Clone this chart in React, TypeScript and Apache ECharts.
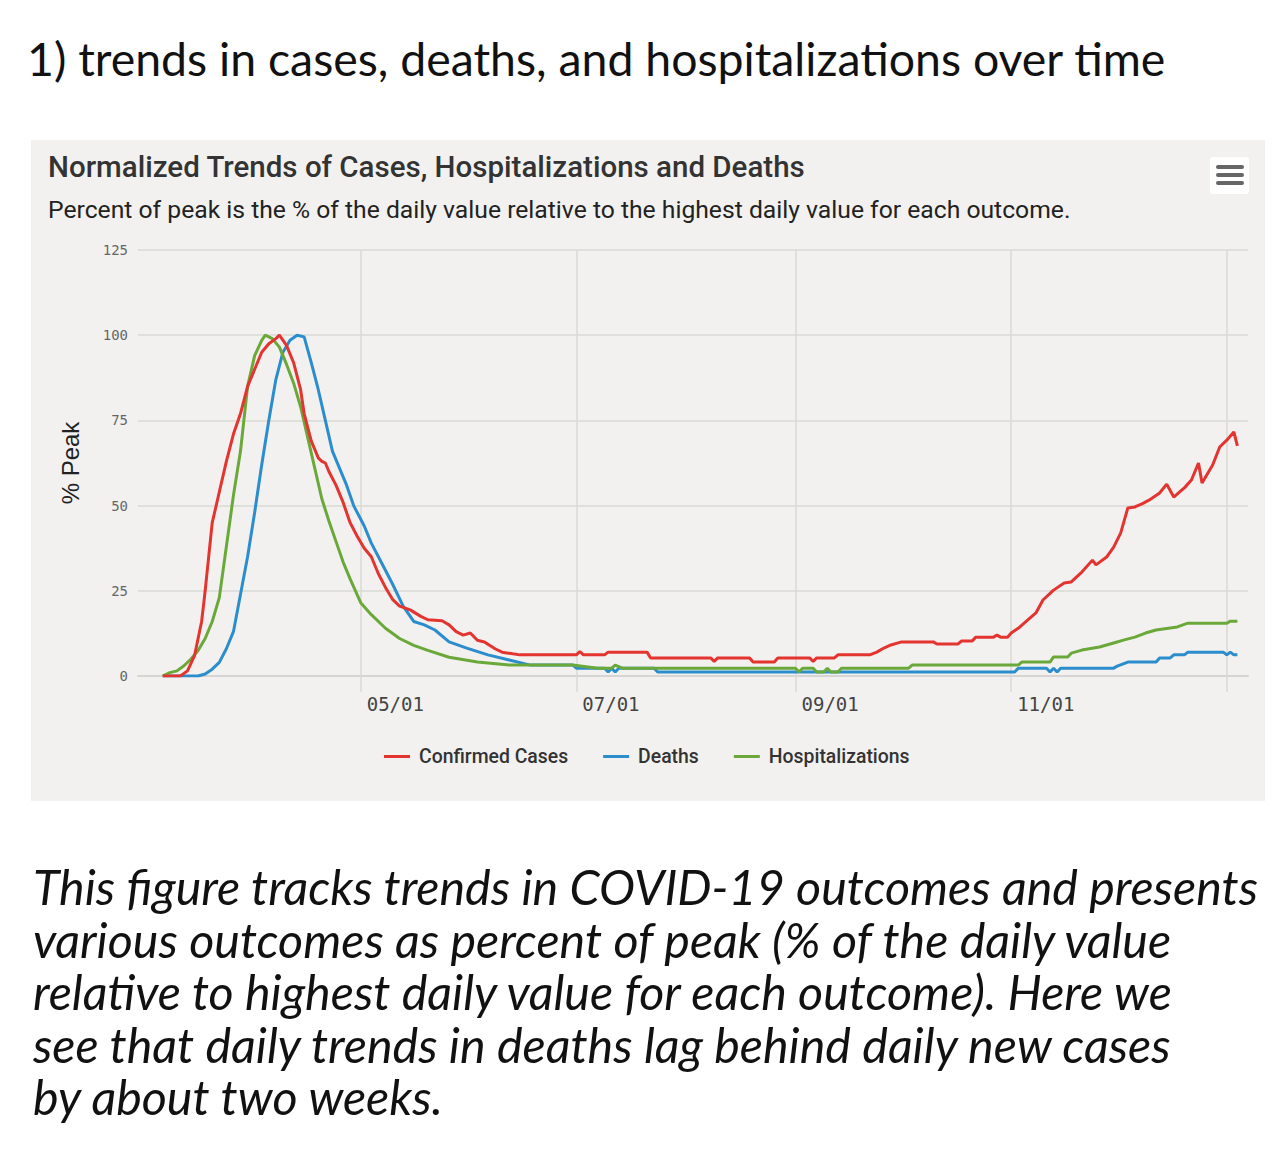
import React, { useEffect, useRef } from "react";
import * as echarts from "echarts";

// ---- Data ----
const axisStart = "2020-02-28";
const axisEnd = "2021-01-07";
const labelDates = ["2020-05-01", "2020-07-01", "2020-09-01", "2020-11-01"];
const gridDates = ["2020-05-01", "2020-07-01", "2020-09-01", "2020-11-01", "2021-01-01"];
const yTicks = [0, 25, 50, 75, 100, 125];
const seriesNames = ["Confirmed Cases", "Deaths", "Hospitalizations"];

const casesData: [string, number][] = [
  ["2020-03-06", 0], ["2020-03-11", 0], ["2020-03-13", 1.5], ["2020-03-15", 6], ["2020-03-17", 16],
  ["2020-03-18", 25], ["2020-03-19", 35], ["2020-03-20", 45], ["2020-03-22", 54], ["2020-03-24", 63],
  ["2020-03-26", 71], ["2020-03-28", 77], ["2020-03-30", 85], ["2020-04-01", 90], ["2020-04-03", 95],
  ["2020-04-05", 97.5], ["2020-04-07", 99], ["2020-04-08", 100], ["2020-04-10", 97], ["2020-04-12", 92],
  ["2020-04-14", 84], ["2020-04-15", 77], ["2020-04-17", 69], ["2020-04-19", 64], ["2020-04-20", 63],
  ["2020-04-21", 62.5], ["2020-04-22", 60], ["2020-04-24", 56], ["2020-04-26", 51], ["2020-04-28", 45],
  ["2020-04-30", 41], ["2020-05-02", 37.5], ["2020-05-04", 35], ["2020-05-06", 30], ["2020-05-08", 26],
  ["2020-05-10", 22.5], ["2020-05-12", 20.5], ["2020-05-15", 19.4], ["2020-05-18", 17.5], ["2020-05-20", 16.5],
  ["2020-05-24", 16.2], ["2020-05-26", 15], ["2020-05-28", 13], ["2020-05-30", 12], ["2020-06-01", 12.6],
  ["2020-06-03", 10.5], ["2020-06-05", 10], ["2020-06-08", 8], ["2020-06-10", 7], ["2020-06-13", 6.5],
  ["2020-06-15", 6.2], ["2020-07-01", 6.2], ["2020-07-02", 7.2], ["2020-07-03", 6.2], ["2020-07-09", 6.2],
  ["2020-07-10", 7], ["2020-07-21", 7], ["2020-07-22", 5.3], ["2020-08-08", 5.3], ["2020-08-09", 4.3],
  ["2020-08-10", 5.3], ["2020-08-19", 5.3], ["2020-08-20", 4.1], ["2020-08-26", 4.1], ["2020-08-27", 5.3],
  ["2020-09-05", 5.3], ["2020-09-06", 4.3], ["2020-09-07", 5.3], ["2020-09-12", 5.3], ["2020-09-13", 6.2],
  ["2020-09-22", 6.2], ["2020-09-24", 7], ["2020-09-26", 8.2], ["2020-09-28", 9.1], ["2020-10-01", 10],
  ["2020-10-10", 10], ["2020-10-11", 9.4], ["2020-10-17", 9.4], ["2020-10-18", 10.3], ["2020-10-21", 10.3],
  ["2020-10-22", 11.4], ["2020-10-27", 11.4], ["2020-10-28", 12], ["2020-10-29", 11.4], ["2020-10-31", 11.4],
  ["2020-11-01", 12.6], ["2020-11-03", 14], ["2020-11-05", 15.8], ["2020-11-08", 18.5], ["2020-11-10", 22.3],
  ["2020-11-13", 25.2], ["2020-11-16", 27.3], ["2020-11-18", 27.6], ["2020-11-21", 30.5], ["2020-11-24", 34],
  ["2020-11-25", 32.6], ["2020-11-28", 34.9], ["2020-11-30", 37.8], ["2020-12-02", 42], ["2020-12-04", 49.3],
  ["2020-12-06", 49.6], ["2020-12-08", 50.5], ["2020-12-10", 51.6], ["2020-12-13", 53.7], ["2020-12-15", 56.3],
  ["2020-12-17", 52.5], ["2020-12-19", 54.3], ["2020-12-20", 55.2], ["2020-12-22", 57.5], ["2020-12-24", 62.5],
  ["2020-12-25", 56.6], ["2020-12-28", 61.9], ["2020-12-30", 67.2], ["2021-01-01", 69.2], ["2021-01-03", 71.6],
  ["2021-01-04", 67.5],
];

const deathsData: [string, number][] = [
  ["2020-03-06", 0], ["2020-03-16", 0], ["2020-03-18", 0.6], ["2020-03-20", 2], ["2020-03-22", 4],
  ["2020-03-24", 8], ["2020-03-26", 13], ["2020-03-28", 24], ["2020-03-30", 35], ["2020-04-01", 48],
  ["2020-04-03", 62], ["2020-04-05", 75], ["2020-04-07", 87], ["2020-04-09", 95], ["2020-04-11", 98.5],
  ["2020-04-13", 100], ["2020-04-15", 99.5], ["2020-04-17", 92], ["2020-04-19", 84], ["2020-04-21", 75],
  ["2020-04-23", 66], ["2020-04-25", 61], ["2020-04-27", 56], ["2020-04-29", 50], ["2020-05-02", 44],
  ["2020-05-04", 39], ["2020-05-07", 33], ["2020-05-10", 27], ["2020-05-13", 20.5], ["2020-05-16", 16],
  ["2020-05-19", 15], ["2020-05-22", 13.5], ["2020-05-26", 10], ["2020-05-31", 8.2], ["2020-06-06", 6.2],
  ["2020-06-12", 4.7], ["2020-06-18", 3.2], ["2020-06-30", 3.2], ["2020-07-01", 2.3], ["2020-07-09", 2.3],
  ["2020-07-10", 1.2], ["2020-07-11", 2.3], ["2020-07-12", 1.2], ["2020-07-13", 2.3], ["2020-07-23", 2.3],
  ["2020-07-24", 1.2], ["2020-11-02", 1.2], ["2020-11-03", 2.3], ["2020-11-11", 2.3], ["2020-11-12", 1.2],
  ["2020-11-13", 2.3], ["2020-11-14", 1.2], ["2020-11-15", 2.3], ["2020-11-30", 2.3], ["2020-12-01", 2.9],
  ["2020-12-04", 4.1], ["2020-12-12", 4.1], ["2020-12-13", 5.3], ["2020-12-16", 5.3], ["2020-12-17", 6.2],
  ["2020-12-20", 6.2], ["2020-12-21", 7], ["2020-12-31", 7], ["2021-01-01", 6.2], ["2021-01-02", 7],
  ["2021-01-03", 6.2], ["2021-01-04", 6.2],
];

const hospData: [string, number][] = [
  ["2020-03-06", 0], ["2020-03-08", 1], ["2020-03-10", 1.5], ["2020-03-12", 3], ["2020-03-14", 5],
  ["2020-03-16", 7.5], ["2020-03-18", 11], ["2020-03-20", 16], ["2020-03-22", 23], ["2020-03-24", 38],
  ["2020-03-26", 53], ["2020-03-28", 66], ["2020-03-30", 85], ["2020-04-01", 94], ["2020-04-03", 98.5],
  ["2020-04-04", 100], ["2020-04-06", 99], ["2020-04-08", 96.5], ["2020-04-10", 91.5], ["2020-04-12", 86],
  ["2020-04-14", 79], ["2020-04-16", 70], ["2020-04-18", 61], ["2020-04-20", 52], ["2020-04-22", 45.5],
  ["2020-04-24", 39.5], ["2020-04-26", 33.5], ["2020-04-28", 28.5], ["2020-05-01", 21.5], ["2020-05-04", 18],
  ["2020-05-08", 14], ["2020-05-12", 11], ["2020-05-16", 9], ["2020-05-20", 7.5], ["2020-05-26", 5.5],
  ["2020-06-03", 4.1], ["2020-06-12", 3.2], ["2020-06-30", 3.2], ["2020-07-07", 2.3], ["2020-07-11", 2.3],
  ["2020-07-12", 3.2], ["2020-07-14", 2.3], ["2020-09-01", 2.3], ["2020-09-02", 1.2], ["2020-09-03", 2.3],
  ["2020-09-06", 2.3], ["2020-09-07", 1.2], ["2020-09-09", 1.2], ["2020-09-10", 2.3], ["2020-09-11", 1.2],
  ["2020-09-13", 1.2], ["2020-09-14", 2.3], ["2020-10-03", 2.3], ["2020-10-04", 3.2], ["2020-11-03", 3.2],
  ["2020-11-04", 4.1], ["2020-11-12", 4.1], ["2020-11-13", 5.6], ["2020-11-17", 5.6], ["2020-11-18", 6.7],
  ["2020-11-21", 7.6], ["2020-11-26", 8.5], ["2020-11-30", 9.7], ["2020-12-03", 10.6], ["2020-12-06", 11.4],
  ["2020-12-09", 12.6], ["2020-12-12", 13.5], ["2020-12-18", 14.4], ["2020-12-21", 15.5], ["2021-01-01", 15.5],
  ["2021-01-02", 16.1], ["2021-01-04", 16.1],
];

const seriesColors = ["#e3342f", "#2b8dcc", "#6ba83a"];

function buildDays(start: string, end: string): string[] {
  const out: string[] = [];
  let t = Date.parse(start + "T00:00:00Z");
  const e = Date.parse(end + "T00:00:00Z");
  while (t <= e) {
    out.push(new Date(t).toISOString().slice(0, 10));
    t += 86400000;
  }
  return out;
}

const headline = "1) trends in cases, deaths, and hospitalizations over time";
const chartTitle = "Normalized Trends of Cases, Hospitalizations and Deaths";
const chartSubtitle =
  "Percent of peak is the % of the daily value relative to the highest daily value for each outcome.";
const caption = [
  "This figure tracks trends in COVID-19 outcomes and presents",
  "various outcomes as percent of peak (% of the daily value",
  "relative to highest daily value for each outcome). Here we",
  "see that daily trends in deaths lag behind daily new cases",
  "by about two weeks.",
];

export default function App() {
  const ref = useRef<HTMLDivElement>(null);

  useEffect(() => {
    if (!ref.current) return;
    const chart = echarts.init(ref.current, undefined, { renderer: "svg" });
    const days = buildDays(axisStart, axisEnd);
    const fmt = (v: string) => v.slice(5, 7) + "/" + v.slice(8, 10);
    const gridLineStyle = { color: "#d9d8d6", width: 1.5 };

    const option: any = {
      animation: false,
      backgroundColor: "#ffffff",
      graphic: [
        {
          type: "rect",
          z: -10,
          silent: true,
          shape: { x: 31, y: 140, width: 1234, height: 661 },
          style: { fill: "#f2f1f0" },
        },
        {
          type: "text",
          x: 27,
          y: 35,
          style: {
            text: headline,
            fontFamily: "Lato",
            fontSize: 46.4,
            fill: "#111111",
            verticalAlign: "top",
          },
        },
        {
          type: "text",
          x: 48,
          y: 152,
          style: {
            text: chartTitle,
            fontFamily: "Roboto",
            fontWeight: 500,
            fontSize: 29.5,
            fill: "#333333",
            verticalAlign: "top",
          },
        },
        {
          type: "text",
          x: 48,
          y: 197,
          style: {
            text: chartSubtitle,
            fontFamily: "Roboto",
            fontSize: 24.7,
            fill: "#222222",
            verticalAlign: "top",
          },
        },
        {
          type: "group",
          x: 1210,
          y: 157,
          children: [
            { type: "rect", shape: { x: 0, y: 0, width: 39, height: 37, r: 3 }, style: { fill: "#ffffff" } },
            { type: "line", shape: { x1: 8, y1: 10, x2: 32, y2: 10 }, style: { stroke: "#666666", lineWidth: 4, lineCap: "round" } },
            { type: "line", shape: { x1: 8, y1: 18, x2: 32, y2: 18 }, style: { stroke: "#666666", lineWidth: 4, lineCap: "round" } },
            { type: "line", shape: { x1: 8, y1: 26, x2: 32, y2: 26 }, style: { stroke: "#666666", lineWidth: 4, lineCap: "round" } },
          ],
        },
        {
          type: "text",
          x: 33,
          y: 860,
          style: {
            text: caption.join("\n"),
            fontFamily: "Lato",
            fontStyle: "italic",
            fontSize: 48.4,
            lineHeight: 52.5,
            fill: "#111111",
            verticalAlign: "top",
          },
        },
      ],
      grid: { left: 138, right: 32, top: 250, bottom: 479, containLabel: false },
      legend: {
        left: 379,
        top: 742,
        icon: "rect",
        itemWidth: 26,
        itemHeight: 3,
        itemGap: 35,
        data: seriesNames,
        textStyle: { fontFamily: "Roboto", fontSize: 19.4, fontWeight: 500, color: "#333333", padding: [0, 0, 0, 4] },
      },
      xAxis: {
        type: "category",
        data: days,
        boundaryGap: false,
        axisLine: { show: true, lineStyle: { color: "#d6d5d3", width: 2 } },
        axisTick: {
          show: true,
          length: 16,
          lineStyle: gridLineStyle,
          interval: (_i: number, v: string) => gridDates.includes(v),
        },
        splitLine: {
          show: true,
          lineStyle: gridLineStyle,
          interval: (_i: number, v: string) => gridDates.includes(v),
        },
        axisLabel: {
          interval: (_i: number, v: string) => labelDates.includes(v),
          formatter: fmt,
          align: "left",
          padding: [0, 0, 0, 6],
          margin: 18,
          fontFamily: "DejaVu Sans Mono",
          fontSize: 19,
          color: "#444444",
        },
      },
      yAxis: {
        type: "value",
        min: yTicks[0],
        max: yTicks[yTicks.length - 1],
        interval: 25,
        name: "% Peak",
        nameLocation: "middle",
        nameRotate: 90,
        nameGap: 56,
        nameTextStyle: { fontFamily: "Liberation Sans", fontSize: 24, color: "#222222" },
        axisLine: { show: false },
        axisTick: { show: false },
        splitLine: { show: true, lineStyle: gridLineStyle },
        axisLabel: { fontFamily: "DejaVu Sans Mono", fontSize: 14, color: "#666666", margin: 10 },
      },
      series: [
        { name: seriesNames[0], type: "line", data: casesData, showSymbol: false, lineStyle: { width: 3, color: seriesColors[0] }, itemStyle: { color: seriesColors[0] }, z: 4 },
        { name: seriesNames[1], type: "line", data: deathsData, showSymbol: false, lineStyle: { width: 3, color: seriesColors[1] }, itemStyle: { color: seriesColors[1] }, z: 3 },
        { name: seriesNames[2], type: "line", data: hospData, showSymbol: false, lineStyle: { width: 3, color: seriesColors[2] }, itemStyle: { color: seriesColors[2] }, z: 3 },
      ],
    };
    chart.setOption(option);
    return () => chart.dispose();
  }, []);

  return (
    <div
      ref={ref}
      style={{ position: "absolute", left: 0, top: 0, width: 1280, height: 1155 }}
    />
  );
}
